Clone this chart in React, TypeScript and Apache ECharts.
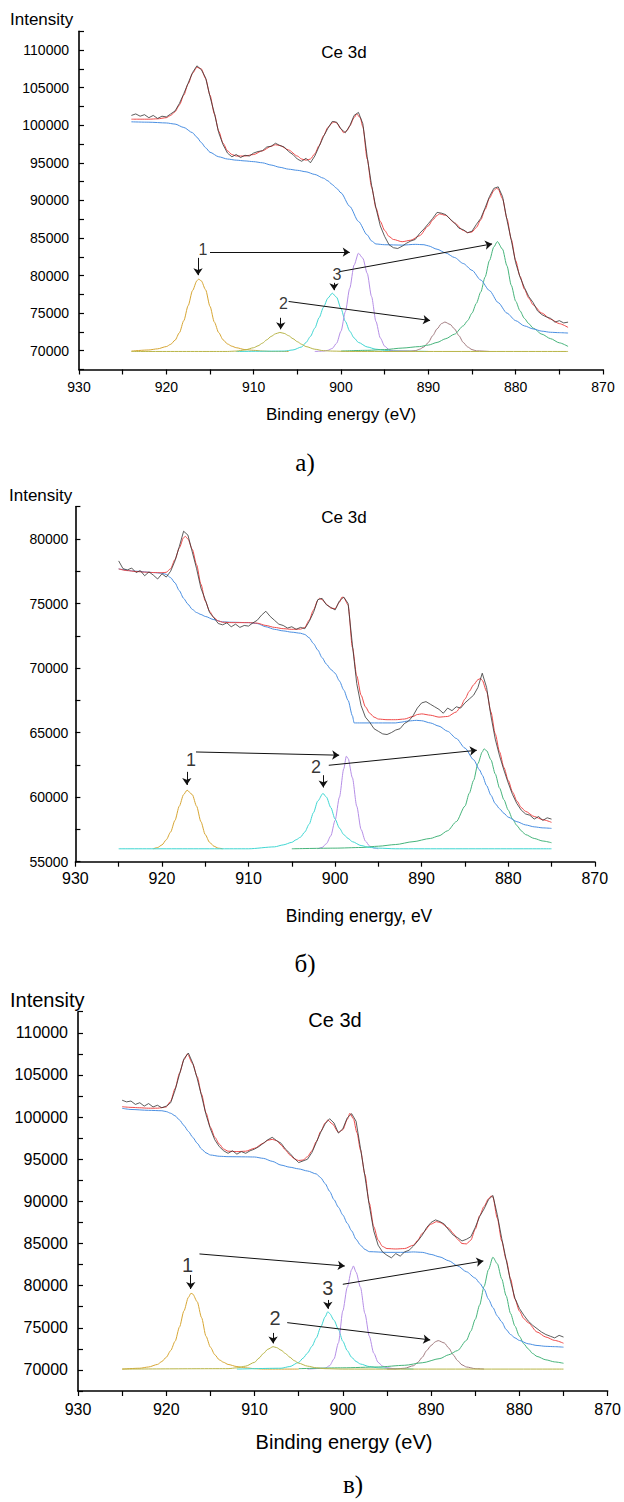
import React, { useEffect, useRef } from "react";
import * as echarts from "echarts";

type Pt = [number, number];
type Arrow = [Pt, Pt];
type Tag = [number, number, string];

// ---------- Panel а : Ce 3d ----------
const aRaw: Pt[] = [
  [924, 101300], [923.5, 101500], [923, 101200], [922.5, 101400], [922, 101000], [921.5, 101300], [921, 100900],
  [920.5, 101200], [920, 101100], [919.5, 101500], [919, 101900], [918.5, 102900], [918, 104200], [917.5, 105600],
  [917, 107000], [916.5, 107900], [916, 107400], [915.5, 106300], [915, 103800], [914.5, 101600], [914, 99000],
  [913.5, 97400], [913, 96300], [912.5, 95800], [912, 96100], [911.5, 95700], [911, 96000], [910.5, 95900],
  [910, 96300], [909.5, 96500], [909, 96600], [908.5, 97100], [908, 97200], [907.5, 97600], [907, 97300],
  [906.5, 97100], [906, 96500], [905.5, 96100], [905, 95500], [904.5, 95200], [904, 95600], [903.5, 95000],
  [903, 95900], [902.5, 97200], [902, 98500], [901.5, 99600], [901, 100500], [900.5, 100400], [900, 99500],
  [899.5, 99000], [899, 99900], [898.5, 101300], [898, 101700], [897.5, 100200], [897, 95800], [896.5, 92000],
  [896, 89000], [895.5, 86600], [895, 85200], [894.5, 84100], [894, 83700], [893.5, 83600], [893, 83900],
  [892.5, 84300], [892, 84600], [891.5, 84800], [891, 85600], [890.5, 86200], [890, 86900], [889.5, 87600],
  [889, 88400], [888.5, 88300], [888, 88100], [887.5, 87500], [887, 87000], [886.5, 86300], [886, 86100],
  [885.5, 85700], [885, 85900], [884.5, 86800], [884, 87600], [883.5, 89000], [883, 90500], [882.5, 91600],
  [882, 91800], [881.5, 90500], [881, 87400], [880.5, 84700], [880, 81700], [879.5, 79800], [879, 78400],
  [878.5, 77200], [878, 76400], [877.5, 75300], [877, 74800], [876.5, 74500], [876, 74300], [875.5, 73800],
  [875, 74000], [874.5, 73700], [874, 73800],
];
const aFit: Pt[] = [
  [924, 100800], [923, 100800], [922, 100800], [921, 100850], [920, 101000], [919.5, 101300], [919, 101800],
  [918.5, 102700], [918, 104000], [917.5, 105500], [917, 106900], [916.5, 107700], [916, 107500], [915.5, 106200],
  [915, 104000], [914.5, 101500], [914, 99200], [913.5, 97600], [913, 96600], [912.5, 96100], [912, 95900],
  [911, 95900], [910, 96100], [909, 96600], [908, 97200], [907.5, 97400], [907, 97300], [906, 96700],
  [905, 95900], [904.5, 95500], [904, 95350], [903.5, 95500], [903, 96200], [902.5, 97300], [902, 98600],
  [901.5, 99700], [901, 100300], [900.8, 100450], [900.5, 100300], [900, 99500], [899.7, 99000], [899.3, 99300],
  [899, 99900], [898.5, 101000], [898.2, 101500], [897.8, 101000], [897.5, 99800], [897, 95500], [896.5, 91800],
  [896, 89000], [895.5, 87200], [895, 86000], [894.5, 85200], [894, 84800], [893, 84500], [892, 84700],
  [891, 85300], [890, 86600], [889.5, 87400], [889, 88000], [888.7, 88200], [888, 88000], [887, 87000],
  [886, 86000], [885.5, 85700], [885, 85800], [884.5, 86400], [884, 87400], [883.5, 88800], [883, 90300],
  [882.5, 91300], [882.2, 91600], [882, 91500], [881.5, 90200], [881, 87600], [880.5, 84800], [880, 82000],
  [879.5, 79900], [879, 78200], [878.5, 77000], [878, 76100], [877, 75000], [876, 74200], [875, 73600], [874, 73100],
];
const aBackground: Pt[] = [
  [924, 100450], [922, 100400], [920, 100300], [919, 100150], [918, 99700], [917, 99000], [916.5, 98400],
  [916, 97700], [915.5, 97000], [915, 96400], [914, 95800], [913, 95500], [912, 95350], [911, 95250],
  [910, 95150], [909, 95000], [908, 94700], [907, 94400], [906, 94150], [905, 94000], [904, 93800],
  [903, 93450], [902, 92950], [901.5, 92600], [901, 92100], [900.5, 91600], [900, 91000], [899, 89200],
  [898, 87200], [897, 85400], [896.5, 84600], [896, 84200], [895, 84100], [893, 84050], [891.5, 84150],
  [890.5, 84100], [890, 83950], [889, 83500], [888, 83000], [887, 82400], [886, 81600], [885, 80700],
  [884, 79400], [883, 78000], [882, 76400], [881, 75000], [880, 74000], [879, 73300], [878, 72900],
  [877, 72600], [876, 72450], [875, 72400], [874, 72350],
];
const aPeakGold: Pt[] = [
  [924, 69950], [922, 70100], [921, 70250], [920, 70550], [919.5, 70850], [919, 71400], [918.5, 72400],
  [918, 74000], [917.5, 76000], [917, 78000], [916.5, 79300], [916.3, 79520], [916, 79300], [915.5, 78100],
  [915, 75900], [914.5, 73800], [914, 72400], [913.5, 71450], [913, 70900], [912.5, 70600], [912, 70400],
  [911, 70150], [910, 70050], [909, 69950], [908, 69900], [906, 69900],
];
const aPeakOlive: Pt[] = [
  [924, 69900], [913, 69900], [912, 69950], [911, 70100], [910, 70400], [909.5, 70650], [909, 71000],
  [908.5, 71450], [908, 71900], [907.5, 72250], [907, 72430], [906.5, 72300], [906, 72000], [905.5, 71600],
  [905, 71200], [904.5, 70850], [904, 70550], [903, 70200], [902, 70000], [901, 69950], [899, 69900], [874, 69900],
];
const aPeakCyan: Pt[] = [
  [912, 69900], [906.5, 69950], [905.5, 70100], [904.5, 70500], [904, 71100], [903.5, 71900], [903, 73000],
  [902.5, 74400], [902, 75800], [901.5, 77000], [901, 77650], [900.5, 77100], [900, 75600], [899.5, 73900],
  [899, 72600], [898.5, 71700], [898, 71100], [897, 70500], [896, 70200], [895, 70050], [893, 69950], [890, 69900],
];
const aPeakPurple: Pt[] = [
  [903, 69900], [902, 69950], [901.5, 70050], [901, 70300], [900.5, 71000], [900, 72600], [899.5, 75200],
  [899, 78300], [898.5, 81400], [898, 82970], [897.5, 82300], [897, 80300], [896.5, 77200], [896, 73900],
  [895.5, 71700], [895, 70600], [894.5, 70150], [894, 69950], [892, 69900],
];
const aPeakBrown: Pt[] = [
  [895, 69900], [892, 69950], [891.5, 70000], [891, 70200], [890.5, 70500], [890, 71100], [889.5, 72000],
  [889, 72900], [888.5, 73600], [888.1, 73810], [887.5, 73500], [887, 72900], [886.5, 72000], [886, 71100],
  [885.5, 70500], [885, 70150], [884.5, 69980], [883, 69900],
];
const aPeakGreen: Pt[] = [
  [900, 69950], [897, 70050], [895, 70150], [893, 70350], [891, 70550], [890, 70750], [889, 71100],
  [888, 71600], [887, 72200], [886, 73300], [885.5, 74000], [885, 75000], [884.5, 76300], [884, 77800],
  [883.5, 79800], [883, 82000], [882.5, 83800], [882.1, 84520], [881.5, 83500], [881, 81300], [880.5, 78700],
  [880, 76600], [879.5, 75300], [879, 74300], [878.5, 73600], [878, 73000], [877, 72200], [876, 71600],
  [875, 71050], [874, 70570],
];
const aArrows: Arrow[] = [
  [[916.37, 82350], [916.37, 80050]],
  [[915.0, 83110], [899.0, 83110]],
  [[900.8, 79030], [900.8, 78050]],
  [[900.1, 80530], [882.7, 84210]],
  [[906.9, 74380], [906.9, 72850]],
  [[906.0, 76550], [889.8, 74020]],
];
const aTags: Tag[] = [
  [915.8, 83410, "1"],
  [906.6, 76330, "2"],
  [900.46, 80090, "3"],
];

// ---------- Panel б : Ce 3d ----------
const bRaw: Pt[] = [
  [925, 78300], [924.5, 77700], [924, 77600], [923.5, 77750], [923, 77400], [922.5, 77550], [922, 77150],
  [921.5, 77450], [921, 77200], [920.5, 76900], [920, 77300], [919.5, 77050], [919, 77500], [918.5, 78300],
  [918, 79400], [917.5, 80600], [917, 80300], [916.5, 79000], [916, 77700], [915.5, 76200], [915, 75300],
  [914.5, 74300], [914, 73900], [913.5, 73450], [913, 73350], [912.5, 73500], [912, 73200], [911.5, 73400],
  [911, 73150], [910.5, 73300], [910, 73250], [909.5, 73500], [909, 73700], [908.5, 74100], [908, 74400],
  [907.5, 74000], [907, 73700], [906.5, 73400], [906, 73300], [905.5, 73100], [905, 73200], [904.5, 73000],
  [904, 73150], [903.5, 73050], [903, 73600], [902.5, 74300], [902, 75300], [901.5, 75400], [901, 74900],
  [900.5, 74700], [900, 74500], [899.5, 75200], [899, 75500], [898.5, 75000], [898, 71800], [897.5, 68800],
  [897, 67100], [896.5, 66200], [896, 65800], [895.5, 65300], [895, 65100], [894.5, 64900], [894, 64850],
  [893.5, 65000], [893, 65200], [892.5, 65300], [892, 65700], [891.5, 65900], [891, 66300], [890.5, 66900],
  [890, 67300], [889.5, 67400], [889, 67200], [888.5, 67000], [888, 66800], [887.5, 66500], [887, 66900],
  [886.5, 66700], [886, 67000], [885.5, 66900], [885, 67300], [884.5, 67600], [884, 67900], [883.5, 68500],
  [883, 69600], [882.5, 68500], [882, 66300], [881.5, 64500], [881, 63200], [880.5, 62100], [880, 61100],
  [879.5, 60200], [879, 59500], [878.5, 59000], [878, 58700], [877.5, 58600], [877, 58300], [876.5, 58500],
  [876, 58200], [875.5, 58400], [875, 58300],
];
const bFit: Pt[] = [
  [925, 77680], [924, 77550], [923, 77480], [922, 77430], [921, 77400], [920, 77380], [919.5, 77420],
  [919, 77700], [918.5, 78400], [918, 79300], [917.5, 80100], [917.3, 80200], [917, 80000], [916.5, 79200],
  [916, 78000], [915.5, 76500], [915, 75200], [914.5, 74400], [914, 73900], [913.5, 73650], [913, 73550],
  [912, 73520], [911, 73520], [910, 73520], [909, 73480], [908, 73300], [907, 73150], [906, 73050],
  [905, 73000], [904, 73020], [903.5, 73150], [903, 73700], [902.5, 74500], [902, 75250], [901.8, 75400],
  [901.5, 75300], [901, 74950], [900.5, 74650], [900, 74600], [899.5, 75100], [899.2, 75500], [899, 75450],
  [898.5, 74900], [898, 71600], [897.5, 69400], [897, 67900], [896.5, 67000], [896, 66500], [895.5, 66200],
  [895, 66050], [894, 66000], [893, 66000], [892, 66050], [891, 66250], [890.5, 66400], [890, 66450],
  [889, 66350], [888, 66200], [887, 66250], [886, 66600], [885.5, 67000], [885, 67600], [884.5, 68200],
  [884, 68700], [883.5, 69100], [883.2, 69200], [883, 69050], [882.5, 68200], [882, 66600], [881.5, 64900],
  [881, 63500], [880.5, 62300], [880, 61300], [879.5, 60400], [879, 59700], [878.5, 59200], [878, 58900],
  [877, 58500], [876, 58250], [875, 58050],
];
const bBackground: Pt[] = [
  [925, 77680], [923, 77500], [921, 77400], [920, 77350], [919.5, 77250], [919, 77000], [918.5, 76600],
  [918, 76000], [917.5, 75400], [917, 74950], [916.5, 74550], [916, 74300], [915.5, 74150], [915, 74000],
  [914, 73750], [913, 73580], [912, 73550], [910, 73520], [909, 73450], [908, 73200], [907, 73000],
  [906, 72880], [905, 72780], [904, 72700], [903.5, 72600], [903, 72350], [902.5, 71900], [902, 71400],
  [901.5, 70800], [901, 70300], [900.5, 69900], [900, 69600], [899.5, 69000], [899, 68300], [898.5, 67500],
  [898, 66300], [897.8, 65750], [897, 65750], [895, 65750], [893, 65750], [892.5, 65800], [891.5, 65900],
  [890.6, 65950], [890, 65920], [889, 65750], [888, 65500], [887, 65100], [886, 64550], [885, 63800],
  [884, 62900], [883.3, 62100], [883, 61700], [882.5, 60900], [882, 60150], [881.5, 59500], [881, 59100],
  [880.5, 58750], [880, 58450], [879, 58100], [878, 57850], [877, 57700], [876, 57620], [875, 57580],
];
const bPeakGold: Pt[] = [
  [921, 56000], [920.5, 56100], [920, 56300], [919.5, 56700], [919, 57300], [918.5, 58200], [918, 59300],
  [917.5, 60200], [917.1, 60540], [916.5, 60200], [916, 59300], [915.5, 58100], [915, 57100], [914.5, 56500],
  [914, 56200], [913.5, 56050], [913, 56000],
];
const bPeakCyan: Pt[] = [
  [925, 56000], [910, 56000], [907, 56150], [906, 56300], [905, 56500], [904.5, 56700], [904, 56900],
  [903.5, 57300], [903, 57900], [902.5, 58800], [902, 59700], [901.4, 60290], [901, 60000], [900.5, 59200],
  [900, 58300], [899.5, 57600], [899, 57100], [898.5, 56800], [898, 56550], [897, 56250], [896, 56100],
  [895, 56050], [893, 56000], [875, 56000],
];
const bPeakPurple: Pt[] = [
  [902, 56000], [901.5, 56100], [901, 56400], [900.5, 57000], [900, 58200], [899.5, 60000], [899, 62200],
  [898.7, 63170], [898.5, 63000], [898, 61500], [897.5, 59300], [897, 57500], [896.5, 56600], [896, 56200],
  [895.5, 56050], [895, 56000],
];
const bPeakGreen: Pt[] = [
  [905, 56000], [900, 56050], [897, 56100], [895, 56200], [893, 56330], [891, 56550], [889, 56800],
  [888, 57000], [887, 57400], [886, 58100], [885, 59300], [884.5, 60300], [884, 61300], [883.5, 62600],
  [883, 63500], [882.8, 63740], [882.5, 63600], [882, 62900], [881.5, 61800], [881, 60700], [880.5, 59800],
  [880, 59000], [879.5, 58300], [879, 57800], [878.5, 57400], [878, 57100], [877, 56800], [876, 56600],
  [875, 56470],
];
const bArrows: Arrow[] = [
  [[917.13, 61960], [917.13, 60950]],
  [[916.07, 63500], [899.53, 63250]],
  [[901.37, 61700], [901.37, 60750]],
  [[900.73, 62470], [883.63, 63630]],
];
const bTags: Tag[] = [
  [916.65, 62860, "1"],
  [902.2, 62300, "2"],
];

// ---------- Panel в : Ce 3d ----------
const cRaw: Pt[] = [
  [925, 102000], [924.5, 101800], [924, 101900], [923.5, 101500], [923, 101700], [922.5, 101300], [922, 101600],
  [921.5, 101200], [921, 101400], [920.5, 101100], [920, 101300], [919.5, 101700], [919, 103200], [918.5, 105100],
  [918, 106900], [917.5, 107600], [917, 106400], [916.5, 104600], [916, 102500], [915.5, 100300], [915, 98600],
  [914.5, 97300], [914, 96500], [913.5, 96000], [913, 95700], [912.5, 96000], [912, 95600], [911.5, 95900],
  [911, 95700], [910.5, 96000], [910, 96200], [909.5, 96500], [909, 96900], [908.5, 97300], [908, 97600],
  [907.5, 97200], [907, 96900], [906.5, 96200], [906, 95700], [905.5, 95100], [905, 94600], [904.5, 94800],
  [904, 95000], [903.5, 95800], [903, 97000], [902.5, 98200], [902, 99200], [901.5, 99800], [901, 99300],
  [900.5, 98100], [900, 98600], [899.5, 99900], [899, 100400], [898.5, 99500], [898, 96300], [897.5, 93000],
  [897, 89500], [896.5, 86500], [896, 84800], [895.5, 84000], [895, 83600], [894.5, 83300], [894, 83800],
  [893.5, 83500], [893, 84000], [892.5, 84200], [892, 84700], [891.5, 85300], [891, 86000], [890.5, 86900],
  [890, 87500], [889.5, 87800], [889, 87600], [888.5, 87300], [888, 86600], [887.5, 86000], [887, 85700],
  [886.5, 85300], [886, 85500], [885.5, 85800], [885, 86900], [884.5, 88200], [884, 89100], [883.5, 90200],
  [883, 90700], [882.5, 88400], [882, 85600], [881.5, 83100], [881, 80500], [880.5, 78500], [880, 77300],
  [879.5, 76500], [879, 75800], [878.5, 75300], [878, 74900], [877.5, 74500], [877, 74200], [876.5, 74000],
  [876, 73800], [875.5, 74100], [875, 73900],
];
const cFit: Pt[] = [
  [925, 101230], [924, 101150], [923, 101100], [922, 101050], [921, 101050], [920, 101200], [919.5, 101900],
  [919, 103400], [918.5, 105200], [918, 106800], [917.6, 107480], [917, 106300], [916.5, 104800], [916, 102700],
  [915.5, 100500], [915, 98800], [914.5, 97600], [914, 96800], [913.5, 96200], [913, 95950], [912, 95900],
  [911, 95950], [910, 96300], [909, 96900], [908.5, 97250], [908, 97360], [907.5, 97200], [907, 96700],
  [906.5, 96100], [906, 95500], [905.5, 95050], [905, 94850], [904.5, 94900], [904, 95300], [903.5, 96000],
  [903, 97100], [902.5, 98300], [902, 99300], [901.7, 99650], [901.2, 99200], [900.5, 98200], [900, 98500],
  [899.5, 99700], [899.2, 100450], [898.8, 99800], [898.4, 98150], [898, 96100], [897.5, 93200], [897, 89800],
  [896.5, 87000], [896, 85400], [895.5, 84650], [895, 84400], [894, 84350], [893, 84400], [892, 84800],
  [891.5, 85400], [891, 86200], [890, 87300], [889.4, 87590], [889, 87500], [888, 86800], [887.5, 86200],
  [887, 85500], [886.5, 85000], [886, 84950], [885.5, 85400], [885, 86700], [884.5, 88300], [884, 89400],
  [883.5, 90300], [883.2, 90640], [883, 90500], [882.5, 88000], [882, 85300], [881.5, 83100], [881, 80800],
  [880.5, 78400], [880, 77000], [879.5, 76100], [879, 75600], [878, 74500], [877, 73900], [876, 73500],
  [875, 73170],
];
const cBackground: Pt[] = [
  [925, 101040], [924, 100900], [922, 100800], [920.5, 100750], [920, 100650], [919.5, 100450], [919, 100150],
  [918.5, 99650], [918, 99000], [917.5, 98300], [917, 97600], [916.5, 96900], [916, 96200], [915.5, 95750],
  [915, 95500], [914, 95350], [913, 95300], [911, 95280], [910, 95260], [909, 95100], [908, 94750],
  [907, 94300], [906, 94050], [905, 93850], [904, 93600], [903, 93250], [902.5, 92800], [902, 92100],
  [901.5, 91200], [901, 90200], [900.5, 89300], [900, 88380], [899.5, 87400], [899, 86500], [898.5, 85500],
  [898, 84800], [897.5, 84300], [897, 84030], [895, 83950], [893, 83950], [892, 84000], [891, 83950],
  [890, 83700], [889, 83400], [888, 82950], [887, 82350], [886, 81650], [885, 80900], [884.5, 80300],
  [884, 79600], [883.5, 78400], [883, 77400], [882.5, 76400], [882, 75700], [881.5, 74800], [881, 74200],
  [880.5, 73800], [880, 73500], [879, 73100], [878, 72900], [877, 72800], [876, 72760], [875, 72700],
];
const cPeakGold: Pt[] = [
  [925, 70100], [923, 70200], [922, 70350], [921, 70650], [920.5, 71000], [920, 71500], [919.5, 72300],
  [919, 73400], [918.5, 75100], [918, 77000], [917.5, 78600], [917.2, 79100], [917, 79000], [916.5, 78100],
  [916, 76200], [915.5, 74000], [915, 72700], [914.5, 71800], [914, 71200], [913.5, 70900], [913, 70650],
  [912, 70400], [911, 70250], [910, 70150], [909, 70100], [905, 70100],
];
const cPeakOlive: Pt[] = [
  [925, 70100], [913, 70150], [912, 70250], [911, 70450], [910, 70900], [909.5, 71400], [909, 71950],
  [908.5, 72450], [907.9, 72760], [907.5, 72650], [907, 72350], [906.5, 71950], [906, 71500], [905.5, 71100],
  [905, 70800], [904, 70450], [903, 70250], [902, 70150], [900, 70100], [875, 70100],
];
const cPeakCyan: Pt[] = [
  [912, 70100], [907, 70200], [906, 70400], [905, 70900], [904.5, 71400], [904, 72000], [903.5, 72800],
  [903, 73800], [902.5, 75100], [902, 76300], [901.7, 76910], [901.5, 76700], [901, 75900], [900.5, 74800],
  [900, 73400], [899.5, 72300], [899, 71500], [898.5, 71000], [898, 70700], [897, 70400], [896, 70250],
  [894, 70150], [892, 70100],
];
const cPeakPurple: Pt[] = [
  [904, 70100], [902, 70200], [901.5, 70500], [901, 71300], [900.5, 73200], [900, 77000], [899.5, 79800],
  [899, 81900], [898.8, 82330], [898.5, 81600], [898, 79800], [897.5, 76700], [897, 74000], [896.5, 72000],
  [896, 70900], [895.5, 70450], [895, 70250], [894, 70100],
];
const cPeakBrown: Pt[] = [
  [895, 70100], [894, 70120], [893, 70200], [892, 70500], [891.5, 70900], [891, 71500], [890.5, 72300],
  [890, 72900], [889.5, 73350], [889.2, 73480], [888.5, 73200], [888, 72600], [887.5, 71800], [887, 71100],
  [886.5, 70600], [886, 70350], [885, 70150], [884, 70100],
];
const cPeakGreen: Pt[] = [
  [905, 70150], [900, 70250], [896, 70350], [893, 70550], [891, 70850], [889, 71350], [888, 71800],
  [887, 72300], [886, 73500], [885.5, 74600], [885, 76000], [884.5, 77700], [884, 79900], [883.5, 81900],
  [883, 83370], [882.5, 82600], [882, 80800], [881.5, 78800], [881, 76700], [880.5, 75200], [880, 74000],
  [879.5, 73100], [879, 72500], [878.5, 71950], [878, 71600], [877, 71200], [876, 70950], [875, 70790],
];
const cArrows: Arrow[] = [
  [[917.23, 81270], [917.23, 79600]],
  [[916.24, 83760], [899.78, 82330]],
  [[901.7, 78300], [901.7, 77250]],
  [[900.0, 80160], [884.08, 82930]],
  [[907.9, 74390], [907.9, 73150]],
  [[906.3, 75610], [890.1, 73560]],
];
const cTags: Tag[] = [
  [917.6, 82450, "1"],
  [907.67, 76130, "2"],
  [901.7, 79690, "3"],
];

// Energy axis (eV) and intensity ranges
const energyMin = 870;
const energyMax = 930;
const aIntensityRange: [number, number] = [67500, 112500];
const bIntensityRange: [number, number] = [55000, 82500];
const cIntensityRange: [number, number] = [67500, 112500];

const SANS = "'Liberation Sans', Arial, Helvetica, sans-serif";
const SERIF = "'Liberation Serif', 'Times New Roman', serif";

const C = {
  raw: "#333333",
  fit: "#ef4a4a",
  background: "#4a8fe2",
  gold: "#d7a633",
  olive: "#b8b548",
  cyan: "#3fd6d2",
  purple: "#b58ee6",
  brown: "#a27c80",
  green: "#46b47b",
  arrow: "#111111",
};

function line(grid: number, name: string, data: Pt[], color: string, z: number, smooth: number | boolean = 0.25, width = 1) {
  return {
    type: "line",
    name,
    xAxisIndex: grid,
    yAxisIndex: grid,
    data,
    showSymbol: false,
    symbol: "none",
    smooth,
    smoothMonotone: "x",
    lineStyle: { color, width },
    silent: true,
    z,
  };
}

function annotations(grid: number, arrows: Arrow[], tags: Tag[], fontSize: number) {
  return {
    type: "scatter",
    xAxisIndex: grid,
    yAxisIndex: grid,
    symbolSize: 1,
    itemStyle: { color: "rgba(0,0,0,0)" },
    silent: true,
    z: 10,
    data: tags.map(([e, v, t]) => ({ name: t, value: [e, v] })),
    label: {
      show: true,
      position: "inside",
      formatter: "{b}",
      fontSize,
      fontFamily: SANS,
      color: "#000",
    },
    markLine: {
      silent: true,
      symbol: ["none", "arrow"],
      symbolSize: 7,
      label: { show: false },
      emphasis: { disabled: true },
      lineStyle: { color: C.arrow, width: 1, type: "solid" },
      data: arrows.map(([p, q]) => [{ coord: p }, { coord: q }]),
    },
  };
}

function xAxis(grid: number, fontSize: number, margin: number) {
  return {
    type: "value",
    gridIndex: grid,
    min: energyMin,
    max: energyMax,
    interval: 5,
    inverse: true,
    axisLine: { show: true, onZero: false, lineStyle: { color: "#000", width: 1.6 } },
    axisTick: { show: true, inside: false, length: 5, lineStyle: { color: "#000", width: 1.2 } },
    axisLabel: {
      fontSize,
      fontFamily: SANS,
      color: "#000",
      margin,
      formatter: (v: number) => (v % 10 === 0 ? String(v) : ""),
    },
    splitLine: { show: false },
  };
}

function yAxis(grid: number, range: [number, number], fontSize: number, margin: number) {
  return {
    type: "value",
    gridIndex: grid,
    min: range[0],
    max: range[1],
    interval: 2500,
    axisLine: { show: true, onZero: false, lineStyle: { color: "#000", width: 1.6 } },
    axisTick: { show: true, inside: true, length: 5, lineStyle: { color: "#000", width: 1.2 } },
    axisLabel: {
      fontSize,
      fontFamily: SANS,
      color: "#000",
      margin,
      formatter: (v: number) => (v % 5000 === 0 ? String(v) : ""),
    },
    splitLine: { show: false },
  };
}

function text(str: string, x: number, y: number, fontSize: number, align = "center", family = SANS) {
  return {
    type: "text",
    x,
    y,
    silent: true,
    style: {
      text: str,
      fontSize,
      fontFamily: family,
      fill: "#000",
      align,
      verticalAlign: "middle",
      textAlign: align,
      textVerticalAlign: "middle",
    },
  };
}

function panelSeries(
  grid: number,
  d: { raw: Pt[]; fit: Pt[]; bg: Pt[]; peaks: [Pt[], string][]; base: [Pt[], string] },
) {
  return [
    ...d.peaks.map(([p, col], k) => line(grid, "peak" + k, p, col, 2)),
    line(grid, "base", d.base[0], d.base[1], 3),
    line(grid, "background", d.bg, C.background, 4),
    line(grid, "fit", d.fit, C.fit, 5),
    line(grid, "raw", d.raw, C.raw, 6, false, 0.8),
  ];
}

export default function App() {
  const ref = useRef<HTMLDivElement>(null);

  useEffect(() => {
    if (!ref.current) return;
    const chart = echarts.init(ref.current, undefined, { renderer: "svg" });

    const option = {
      animation: false,
      backgroundColor: "#ffffff",
      grid: [
        { left: 79, top: 31.25, width: 524, height: 338.25 },
        { left: 75.4, top: 506.7, width: 519.4, height: 355 },
        { left: 78, top: 1011.7, width: 532, height: 379.3 },
      ],
      xAxis: [xAxis(0, 14, 10), xAxis(1, 16, 9), xAxis(2, 16, 10)],
      yAxis: [
        yAxis(0, aIntensityRange, 14, 10),
        yAxis(1, bIntensityRange, 14, 7),
        yAxis(2, cIntensityRange, 16, 10),
      ],
      series: [
        ...panelSeries(0, {
          raw: aRaw,
          fit: aFit,
          bg: aBackground,
          peaks: [
            [aPeakGold, C.gold],
            [aPeakCyan, C.cyan],
            [aPeakPurple, C.purple],
            [aPeakBrown, C.brown],
            [aPeakGreen, C.green],
          ],
          base: [aPeakOlive, C.olive],
        }),
        annotations(0, aArrows, aTags, 16),
        ...panelSeries(1, {
          raw: bRaw,
          fit: bFit,
          bg: bBackground,
          peaks: [
            [bPeakGold, C.gold],
            [bPeakPurple, C.purple],
            [bPeakGreen, C.green],
          ],
          base: [bPeakCyan, C.cyan],
        }),
        annotations(1, bArrows, bTags, 18),
        ...panelSeries(2, {
          raw: cRaw,
          fit: cFit,
          bg: cBackground,
          peaks: [
            [cPeakGold, C.gold],
            [cPeakCyan, C.cyan],
            [cPeakPurple, C.purple],
            [cPeakBrown, C.brown],
            [cPeakGreen, C.green],
          ],
          base: [cPeakOlive, C.olive],
        }),
        annotations(2, cArrows, cTags, 20),
      ],
      graphic: [
        text("Intensity", 10, 19, 17, "left"),
        text("Ce 3d", 344, 52, 17),
        text("Binding energy (eV)", 341, 414, 17),
        text("а)", 305, 462, 25, "center", SERIF),

        text("Intensity", 9, 495, 17, "left"),
        text("Ce 3d", 344, 517, 17),
        text("Binding energy, eV", 359, 916, 17.5),
        text("б)", 305, 963, 25, "center", SERIF),

        text("Intensity", 10, 1000, 20, "left"),
        text("Ce 3d", 335, 1020, 20),
        text("Binding energy (eV)", 344, 1442, 20),
        text("в)", 353, 1484, 25, "center", SERIF),
      ],
    };

    chart.setOption(option as any);
    return () => chart.dispose();
  }, []);

  return (
    <div
      ref={ref}
      style={{ position: "absolute", left: 0, top: 0, width: 624, height: 1502, background: "#fff" }}
    />
  );
}
